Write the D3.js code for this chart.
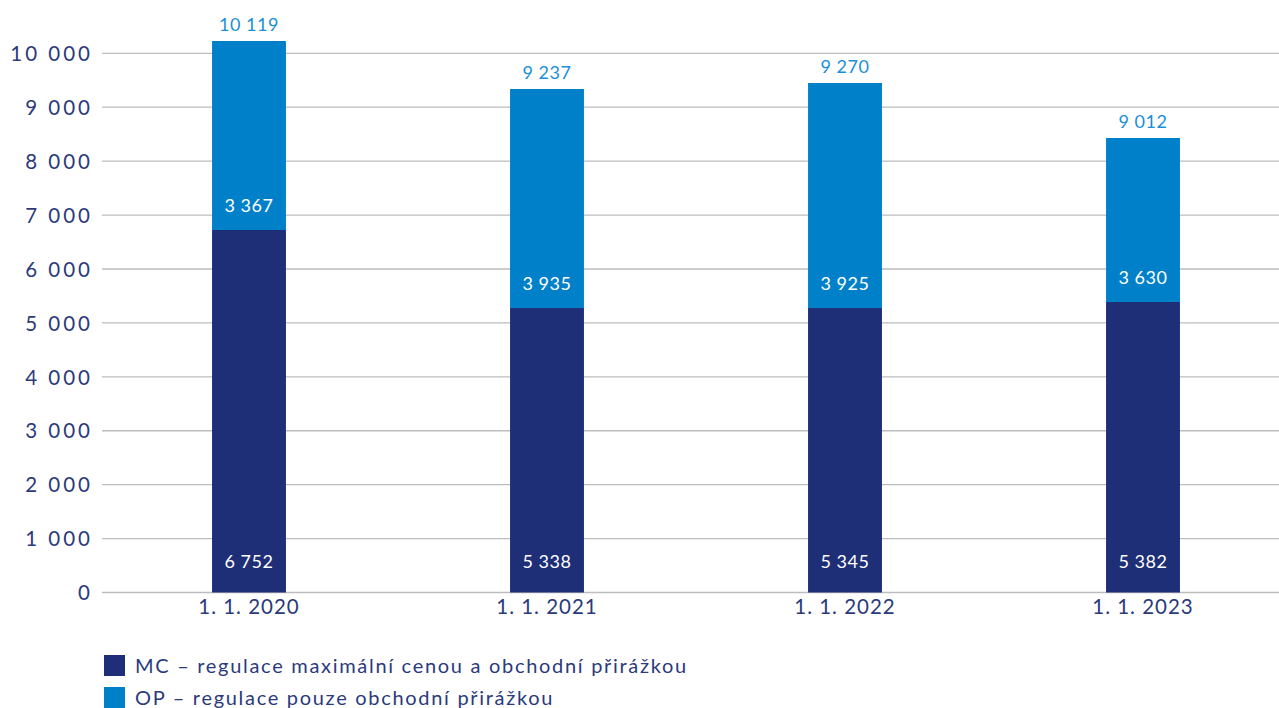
<!DOCTYPE html>
<html><head><meta charset="utf-8">
<script src="https://cdn.jsdelivr.net/npm/d3@7"></script>
<style>
html,body{margin:0;padding:0;background:#fff;}
svg{display:block;font-family:Lato,"Noto Sans",sans-serif;}
</style></head>
<body><svg id="c" width="1279" height="708"></svg>
<script>
const categories = ["1. 1. 2020","1. 1. 2021","1. 1. 2022","1. 1. 2023"];
// bar segment heights
const mcValues = [6723, 5276, 5276, 5388];
const opValues = [3505, 4062, 4173, 3041];
// value labels as printed in the picture
const mcLabels = ["6 752","5 338","5 345","5 382"];
const opLabels = ["3 367","3 935","3 925","3 630"];
const totalLabels = ["10 119","9 237","9 270","9 012"];
const yTicks = [0,1000,2000,3000,4000,5000,6000,7000,8000,9000,10000];
const seriesNames = ["MC – regulace maximální cenou a obchodní přirážkou","OP – regulace pouze obchodní přirážkou"];
const colors = ["#1e2e77","#0180ca"];

const svg = d3.select("#c");
const x = d3.scaleBand().domain(categories).range([100,1292]).paddingInner(0.752).paddingOuter(0.376);
const y = d3.scaleLinear().domain([0,10000]).range([592.5,53.3]);
const fmt = v => d3.format(",")(v).replace(/,/g," ");
const textCol = "#2b3a7c";

// gridlines
svg.append("g").selectAll("line").data(yTicks).join("line")
  .attr("x1",102).attr("x2",1279)
  .attr("y1",d=>y(d)).attr("y2",d=>y(d))
  .attr("stroke","#bdbdbd").attr("stroke-width",1.3);

// y axis labels
const yAxis = d3.axisLeft(y).tickValues(yTicks).tickFormat(fmt).tickSize(0).tickPadding(0);
const ga = svg.append("g").attr("transform","translate(93,0)").call(yAxis);
ga.select(".domain").remove();
ga.selectAll("text").attr("font-size",20.5).attr("fill",textCol).attr("font-family","Lato,'Noto Sans',sans-serif").attr("dy","0.35em").attr("letter-spacing","3");

// x axis labels
const xAxis = d3.axisBottom(x).tickSize(0).tickPadding(0);
const gx = svg.append("g").attr("transform","translate(0,598)").call(xAxis);
gx.select(".domain").remove();
gx.selectAll("text").attr("font-size",20.5).attr("fill",textCol).attr("font-family","Lato,'Noto Sans',sans-serif").attr("dy","0.8em").attr("letter-spacing","1");

const rows = categories.map((c,i)=>({c, mc:mcValues[i], op:opValues[i], i}));
// MC bars
svg.append("g").selectAll("rect").data(rows).join("rect")
  .attr("x",d=>x(d.c)).attr("width",x.bandwidth())
  .attr("y",d=>y(d.mc)).attr("height",d=>y(0)-y(d.mc)).attr("fill",colors[0]);
// OP bars
svg.append("g").selectAll("rect").data(rows).join("rect")
  .attr("x",d=>x(d.c)).attr("width",x.bandwidth())
  .attr("y",d=>y(d.mc+d.op)).attr("height",d=>y(d.mc)-y(d.mc+d.op)).attr("fill",colors[1]);

const lab = svg.append("g").attr("font-size",18).attr("text-anchor","middle").attr("letter-spacing","0.5");
// MC labels
lab.selectAll(".mcl").data(rows).join("text").attr("class","mcl")
  .attr("x",d=>x(d.c)+x.bandwidth()/2).attr("y",y(0)-31).attr("dy","0.35em")
  .attr("fill","#ffffff").text(d=>mcLabels[d.i]);
// OP labels
lab.selectAll(".opl").data(rows).join("text").attr("class","opl")
  .attr("x",d=>x(d.c)+x.bandwidth()/2).attr("y",d=>y(d.mc)-24).attr("dy","0.35em")
  .attr("fill","#ffffff").text(d=>opLabels[d.i]);
// total labels
lab.selectAll(".tl").data(rows).join("text").attr("class","tl")
  .attr("x",d=>x(d.c)+x.bandwidth()/2).attr("y",d=>y(d.mc+d.op)-16).attr("dy","0.35em")
  .attr("fill","#1b8fd8").text(d=>totalLabels[d.i]);

// legend
const lg = svg.append("g").selectAll("g").data(seriesNames).join("g")
  .attr("transform",(d,i)=>`translate(104,${655+i*32})`);
lg.append("rect").attr("width",21).attr("height",21).attr("fill",(d,i)=>colors[i]);
lg.append("text").attr("x",31).attr("y",11).attr("dy","0.35em").attr("font-size",20)
  .attr("fill",textCol).attr("letter-spacing","1.7").text(d=>d);
</script></body></html>
